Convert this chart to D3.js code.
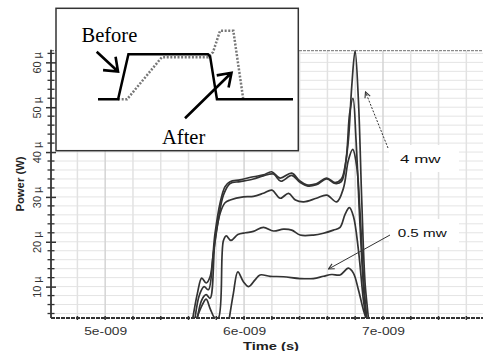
<!DOCTYPE html>
<html><head><meta charset="utf-8">
<script src="https://cdn.jsdelivr.net/npm/d3@7"></script>
<style>html,body{margin:0;padding:0;background:#fff;overflow:hidden}</style>
</head><body>
<svg id="chart" width="483" height="351"></svg>
<script>
// ---------- data (time in ns, power in µW) ----------
const seriesNames = ["4 mw", "curve 2", "curve 3", "curve 4", "0.5 mw"];
const time1  = [5.631,5.664,5.695,5.727,5.755,5.791,5.827,5.863,5.899,5.971,6.067,6.139,6.199,6.259,6.343,6.400,6.451,6.520,6.595,6.655,6.700,6.725,6.751,6.775,6.799,6.823,6.847,6.871,6.895];
const power1 = [3.0,8.5,11.9,10.8,12.2,21.9,28.6,32.3,33.4,33.8,34.5,34.9,35.6,34.2,35.3,33.6,32.7,32.9,34.2,33.2,34.0,36.5,42.7,54.6,62.6,51.6,29.3,10.8,3.0];
const time2  = [5.647,5.679,5.712,5.743,5.779,5.815,5.851,5.899,5.971,6.067,6.139,6.211,6.265,6.343,6.400,6.460,6.520,6.595,6.655,6.700,6.735,6.760,6.784,6.806,6.835,6.863,6.882];
const power2 = [3.0,8.2,10.0,9.3,17.5,24.9,30.4,33.0,33.4,34.0,34.7,35.1,33.5,34.8,33.3,32.4,32.7,34.0,33.0,33.4,38.5,48.6,52.0,42.7,23.4,8.5,3.0];
const time3  = [5.664,5.695,5.727,5.755,5.791,5.827,5.863,5.900,5.995,6.067,6.139,6.200,6.260,6.320,6.370,6.430,6.520,6.595,6.667,6.715,6.751,6.782,6.811,6.835,6.859,6.882];
const power3 = [3.0,7.0,8.2,7.4,20.4,26.3,28.7,29.3,30.0,30.1,30.8,31.5,29.7,30.8,29.3,28.9,29.7,30.4,28.9,31.9,38.2,40.6,36.8,26.4,12.2,3.0];
const time4  = [5.660,5.700,5.727,5.757,5.790,5.815,5.851,5.872,5.905,5.955,6.010,6.067,6.139,6.211,6.283,6.343,6.403,6.499,6.571,6.643,6.691,6.727,6.758,6.787,6.823,6.859,6.878];
const power4 = [3.0,6.0,7.2,5.0,3.0,3.0,20.2,21.3,20.3,21.6,22.0,22.3,23.2,22.4,22.8,22.6,21.5,21.5,21.9,22.6,23.2,26.1,27.6,25.7,18.2,7.0,3.0];
const time5  = [5.894,5.923,5.955,5.995,6.033,6.079,6.115,6.187,6.283,6.403,6.499,6.571,6.631,6.691,6.751,6.787,6.823,6.859,6.878];
const power5 = [3.0,8.5,13.3,11.1,10.0,11.5,12.6,12.3,12.2,11.8,11.8,12.3,12.7,12.6,14.1,13.0,9.3,4.8,3.0];

const xTickValues = [5, 6, 7];
const xTickLabels = ["5e-009", "6e-009", "7e-009"];
const yTickValues = [10, 20, 30, 40, 50, 60];
const yTickLabels = ["10 µ", "20 µ", "30 µ", "40 µ", "50 µ", "60 µ"];

// inset (normalised units)
const insetBeforeX = [0, 10.3, 15.6, 56.4, 57.5, 61.0, 100];
const insetBeforeY = [0, 0, 1, 1, 0.95, 0, 0];
const insetAfterX  = [10.3, 14.9, 32.7, 56.4, 59.0, 62.6, 69.4, 74.5];
const insetAfterY  = [0, 0, 0.933, 0.933, 1.05, 1.524, 1.524, 0];

// ---------- layout ----------
const svg = d3.select("#chart");
const W = 483, H = 351;
const L = 51, R = 483, T = 50.7, B = 318;

const x = d3.scaleLinear().domain([4.61, 7.72]).range([L, R]);
const y = d3.scaleLinear().domain([3.0, 62.6]).range([B, T]);

svg.append("rect").attr("width", W).attr("height", H).attr("fill", "#fff");

// grid
const xGrid = d3.range(4.8, 7.75, 0.2).map(v => +v.toFixed(1));
const yGrid = d3.range(4, 63, 2);
svg.append("g").selectAll("line").data(yGrid).join("line")
  .attr("x1", L).attr("x2", R).attr("y1", d => y(d)).attr("y2", d => y(d))
  .attr("stroke", "#e4e4e4").attr("stroke-width", 1);
svg.append("g").selectAll("line").data(xGrid).join("line")
  .attr("y1", T).attr("y2", B).attr("x1", d => x(d)).attr("x2", d => x(d))
  .attr("stroke", d => (Math.abs(d - Math.round(d)) < 1e-6) ? "#d4d4d4" : "#e2e2e2")
  .attr("stroke-width", 1.5);

// top dotted border
svg.append("line").attr("x1", L).attr("x2", R).attr("y1", T).attr("y2", T)
  .attr("stroke", "#8a8a8a").attr("stroke-width", 1.2).attr("stroke-dasharray", "3,1");

// curves
svg.append("clipPath").attr("id", "plotclip").append("rect")
  .attr("x", L).attr("y", T - 1).attr("width", R - L).attr("height", B - T + 1);
const allTimes = [time1, time2, time3, time4, time5];
const allPowers = [power1, power2, power3, power4, power5];
const series = seriesNames.map((n, i) => ({ name: n, values: allTimes[i].map((t, j) => ({ t, p: allPowers[i][j] })) }));
const line = d3.line().x(d => x(d.t)).y(d => y(d.p)).curve(d3.curveCatmullRom.alpha(0.5));
svg.append("g").attr("clip-path", "url(#plotclip)")
  .selectAll("path").data(series).join("path")
  .attr("d", d => line(d.values))
  .attr("fill", "none").attr("stroke", "#333").attr("stroke-width", 1.7)
  .attr("stroke-linejoin", "round");

// bottom axis
const xAxis = d3.axisBottom(x).tickValues(xTickValues)
  .tickFormat((d, i) => xTickLabels[i]).tickSize(0).tickPadding(10);
const gx = svg.append("g").attr("transform", `translate(0,${B})`).call(xAxis);
gx.select(".domain").remove();
gx.selectAll("text").attr("font-family", "Liberation Sans, Arial, sans-serif")
  .attr("font-size", 10.5).attr("fill", "#333").attr("dy", "0.71em").attr("y", 10)
  .attr("textLength", 43).attr("lengthAdjust", "spacingAndGlyphs");
svg.append("line").attr("x1", L).attr("x2", R).attr("y1", B).attr("y2", B)
  .attr("stroke", "#333").attr("stroke-width", 2).attr("stroke-dasharray", "4,1");
svg.append("g").selectAll("line").data(xGrid).join("line")
  .attr("x1", d => x(d)).attr("x2", d => x(d)).attr("y1", B - 2).attr("y2", B + 2)
  .attr("stroke", "#333").attr("stroke-width", 1.5);

// left axis
const yAxis = d3.axisLeft(y).tickValues(yTickValues)
  .tickFormat((d, i) => yTickLabels[i]).tickSize(5).tickPadding(0);
const gy = svg.append("g").attr("transform", `translate(${L},0)`).call(yAxis);
gy.select(".domain").remove();
gy.selectAll(".tick line").attr("x1", 5).attr("x2", -5).attr("stroke", "#333").attr("stroke-width", 1.5);
gy.selectAll("text").attr("font-family", "Liberation Sans, Arial, sans-serif")
  .attr("font-size", 11).attr("fill", "#333")
  .attr("transform", "rotate(-90)").attr("text-anchor", "middle")
  .attr("x", 0).attr("y", -10).attr("dy", 0)
  .attr("textLength", 21.5).attr("lengthAdjust", "spacingAndGlyphs");
svg.append("g").selectAll("line").data(yGrid.filter(v => v % 10 !== 0)).join("line")
  .attr("x1", L - 3.5).attr("x2", L + 3.5).attr("y1", d => y(d)).attr("y2", d => y(d))
  .attr("stroke", "#333").attr("stroke-width", 1.3);
svg.append("line").attr("x1", L).attr("x2", L).attr("y1", T - 1).attr("y2", B)
  .attr("stroke", "#333").attr("stroke-width", 1.8);

// axis titles
svg.append("text").text("Time (s)").attr("x", 271).attr("y", 349.5)
  .attr("text-anchor", "middle").attr("font-family", "Liberation Sans, Arial, sans-serif")
  .attr("font-weight", "bold").attr("font-size", 11).attr("fill", "#222")
  .attr("textLength", 56).attr("lengthAdjust", "spacingAndGlyphs");
svg.append("text").text("Power (W)")
  .attr("transform", "translate(24,184) rotate(-90)")
  .attr("text-anchor", "middle").attr("font-family", "Liberation Sans, Arial, sans-serif")
  .attr("font-weight", "bold").attr("font-size", 11).attr("fill", "#222")
  .attr("textLength", 55).attr("lengthAdjust", "spacingAndGlyphs");

// annotations
const defs = svg.append("defs");
defs.append("marker").attr("id", "ah").attr("viewBox", "0 0 10 10").attr("refX", 9).attr("refY", 5)
  .attr("markerWidth", 7).attr("markerHeight", 7).attr("orient", "auto")
  .append("path").attr("d", "M1,1 L9,5 L1,9").attr("fill", "none").attr("stroke", "#333").attr("stroke-width", 1.6);

svg.append("rect").attr("x", 389).attr("y", 145).attr("width", 70).attr("height", 27).attr("fill", "#fff");
svg.append("rect").attr("x", 389).attr("y", 219).attr("width", 70).attr("height", 28).attr("fill", "#fff");

svg.append("line").attr("x1", 388).attr("y1", 148).attr("x2", 365.5).attr("y2", 92)
  .attr("stroke", "#333").attr("stroke-width", 1).attr("stroke-dasharray", "2,1.5")
  .attr("marker-end", "url(#ah)");
svg.append("line").attr("x1", 390).attr("y1", 235).attr("x2", 328.5).attr("y2", 269)
  .attr("stroke", "#333").attr("stroke-width", 1)
  .attr("marker-end", "url(#ah)");

svg.append("text").text("4 mw").attr("x", 400).attr("y", 163.3)
  .attr("font-family", "Liberation Sans, Arial, sans-serif").attr("font-size", 11.5).attr("fill", "#111")
  .attr("textLength", 40.5).attr("lengthAdjust", "spacingAndGlyphs");
svg.append("text").text("0.5 mw").attr("x", 397.7).attr("y", 237.3)
  .attr("font-family", "Liberation Sans, Arial, sans-serif").attr("font-size", 11.5).attr("fill", "#111")
  .attr("textLength", 49).attr("lengthAdjust", "spacingAndGlyphs");

// ---------- inset ----------
const inset = svg.append("g");
inset.append("rect").attr("x", 56).attr("y", 8.3).attr("width", 242.3).attr("height", 142.4)
  .attr("fill", "#fff").attr("stroke", "#333").attr("stroke-width", 1.5);
const ix = d3.scaleLinear().domain([0, 100]).range([98, 293]);
const iy = d3.scaleLinear().domain([0, 1]).range([99.3, 54.3]);
const iline = d3.line().x(d => ix(d[0])).y(d => iy(d[1]));
inset.append("path").attr("d", iline(insetAfterX.map((v, i) => [v, insetAfterY[i]])))
  .attr("fill", "none").attr("stroke", "#777").attr("stroke-width", 2.5).attr("stroke-dasharray", "2,1.6");
inset.append("path").attr("d", iline(insetBeforeX.map((v, i) => [v, insetBeforeY[i]])))
  .attr("fill", "none").attr("stroke", "#000").attr("stroke-width", 2.5).attr("stroke-linejoin", "miter");

function openArrow(g, x1, y1, x2, y2, arm, spread) {
  const a = Math.atan2(y2 - y1, x2 - x1);
  const b1 = a + Math.PI - spread, b2 = a + Math.PI + spread;
  const d = `M${x1},${y1} L${x2},${y2} M${x2 + arm * Math.cos(b1)},${y2 + arm * Math.sin(b1)} L${x2},${y2} L${x2 + arm * Math.cos(b2)},${y2 + arm * Math.sin(b2)}`;
  g.append("path").attr("d", d).attr("fill", "none").attr("stroke", "#000").attr("stroke-width", 2.6);
}
openArrow(inset, 96.7, 51.7, 118, 71.5, 15, 0.66);
openArrow(inset, 185, 118.3, 231.5, 72.8, 15, 0.6);

inset.append("text").text("Before").attr("x", 81.5).attr("y", 42)
  .attr("font-family", "Liberation Serif, Times New Roman, serif").attr("font-size", 20.5).attr("fill", "#000");
inset.append("text").text("After").attr("x", 162).attr("y", 144)
  .attr("font-family", "Liberation Serif, Times New Roman, serif").attr("font-size", 20.5).attr("fill", "#000");
</script>
</body></html>
